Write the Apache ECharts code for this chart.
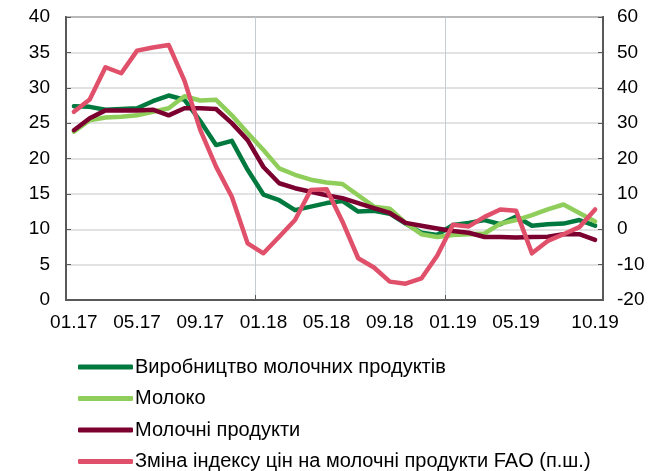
<!DOCTYPE html>
<html>
<head>
<meta charset="utf-8">
<script src="https://cdn.jsdelivr.net/npm/echarts@6/dist/echarts.min.js"></script>
<style>
  html, body { margin: 0; padding: 0; background: #fff; }
  #chart { width: 664px; height: 471px; }
</style>
</head>
<body>
<div id="chart"></div>
<script>
const months = [
  '01.17', '02.17', '03.17', '04.17', '05.17', '06.17', '07.17', '08.17', '09.17', '10.17', '11.17', '12.17',
  '01.18', '02.18', '03.18', '04.18', '05.18', '06.18', '07.18', '08.18', '09.18', '10.18', '11.18', '12.18',
  '01.19', '02.19', '03.19', '04.19', '05.19', '06.19', '07.19', '08.19', '09.19', '10.19'
];
const names = [
  'Виробництво молочних продуктів',
  'Молоко',
  'Молочні продукти',
  'Зміна індексу цін на молочні продукти FAO (п.ш.)'
];
// left axis
const production = [27.4, 27.3, 26.9, 27.0, 27.1, 28.1, 28.9, 28.3, 25.3, 21.9, 22.5, 18.4,
  14.9, 14.1, 12.7, 13.2, 13.7, 14.0, 12.5, 12.6, 12.2, 10.8, 9.5, 9.2,
  10.6, 10.9, 11.3, 10.7, 11.8, 10.5, 10.7, 10.8, 11.3, 10.5];
const milk = [23.8, 25.4, 25.8, 25.9, 26.1, 26.6, 27.1, 28.8, 28.2, 28.3, 26.1, 23.6,
  21.2, 18.6, 17.7, 17.0, 16.6, 16.4, 14.8, 13.2, 12.9, 10.9, 9.3, 8.9,
  9.2, 9.3, 9.4, 10.8, 11.3, 12.0, 12.8, 13.5, 12.3, 11.1];
const dairy = [24.0, 25.7, 26.8, 26.8, 26.8, 26.9, 26.1, 27.1, 27.1, 27.0, 25.0, 22.6,
  18.8, 16.5, 15.8, 15.3, 14.8, 14.4, 13.7, 13.0, 12.3, 10.9, 10.5, 10.1,
  9.75, 9.5, 8.9, 8.9, 8.85, 8.9, 8.95, 9.3, 9.3, 8.5];
// right axis
const faoIndex = [33.2, 36.7, 45.8, 44.1, 50.5, 51.4, 52.1, 42.0, 28.1, 17.7, 9.2, -4.0,
  -6.8, -2.1, 2.6, 11.1, 11.3, 2.2, -8.2, -10.8, -14.8, -15.4, -13.9, -7.5,
  1.3, 0.8, 3.5, 5.6, 5.2, -6.8, -3.3, -1.4, 0.6, 5.6];

const colors = ['#00793f', '#8fce5a', '#7b0030', '#e0506a'];
const font = 'Liberation Sans, Arial, sans-serif';

const chart = echarts.init(document.getElementById('chart'));

function lineSeries(name, data, color, yIdx) {
  return {
    name: name,
    type: 'line',
    data: data,
    yAxisIndex: yIdx,
    symbol: 'none',
    smooth: false,
    lineStyle: { color: color, width: 4.5, cap: 'round', join: 'round' },
    itemStyle: { color: color }
  };
}

chart.setOption({
  animation: false,
  textStyle: { fontFamily: font },
  grid: {
    left: 66, right: 61, top: 17, bottom: 171,
    show: true, borderColor: '#595959', borderWidth: 2
  },
  legend: {
    orient: 'vertical',
    left: 78,
    top: 357,
    height: 300,
    padding: 0,
    icon: 'roundRect',
    itemWidth: 55,
    itemHeight: 5,
    itemGap: 11.5,
    textStyle: { fontSize: 20, color: '#000', fontFamily: font, lineHeight: 20, padding: [0, 0, 0, -3] },
    data: names
  },
  xAxis: {
    type: 'category',
    data: months,
    boundaryGap: true,
    axisLine: { lineStyle: { color: '#595959', width: 2 } },
    axisTick: {
      show: true, inside: true, length: 5,
      interval: function (i) { return i === 12 || i === 24; },
      lineStyle: { color: '#595959' }
    },
    splitLine: {
      show: true,
      interval: function (i) { return i === 12 || i === 24; },
      lineStyle: { color: '#c5cdd4', width: 1 }
    },
    axisLabel: {
      interval: function (i) { return (i % 4 === 0 && i !== 32) || i === 33; },
      color: '#000', fontSize: 19, fontFamily: font, margin: 13
    }
  },
  yAxis: [
    {
      type: 'value', min: 0, max: 40, interval: 5,
      axisLine: { show: true, lineStyle: { color: '#595959', width: 2 } },
      axisTick: { show: true, inside: true, length: 5, lineStyle: { color: '#595959' } },
      splitLine: { show: true, lineStyle: { color: '#d9d9d9', width: 1.5 } },
      axisLabel: { color: '#000', fontSize: 19, fontFamily: font, margin: 16 }
    },
    {
      type: 'value', min: -20, max: 60, interval: 10,
      position: 'right',
      axisLine: { show: true, lineStyle: { color: '#595959', width: 2 } },
      axisTick: { show: true, inside: true, length: 5, lineStyle: { color: '#595959' } },
      splitLine: { show: false },
      axisLabel: { color: '#000', fontSize: 19, fontFamily: font, margin: 14 }
    }
  ],
  series: [
    lineSeries(names[0], production, colors[0], 0),
    lineSeries(names[1], milk, colors[1], 0),
    lineSeries(names[2], dairy, colors[2], 0),
    lineSeries(names[3], faoIndex, colors[3], 1)
  ]
});
</script>
</body>
</html>
